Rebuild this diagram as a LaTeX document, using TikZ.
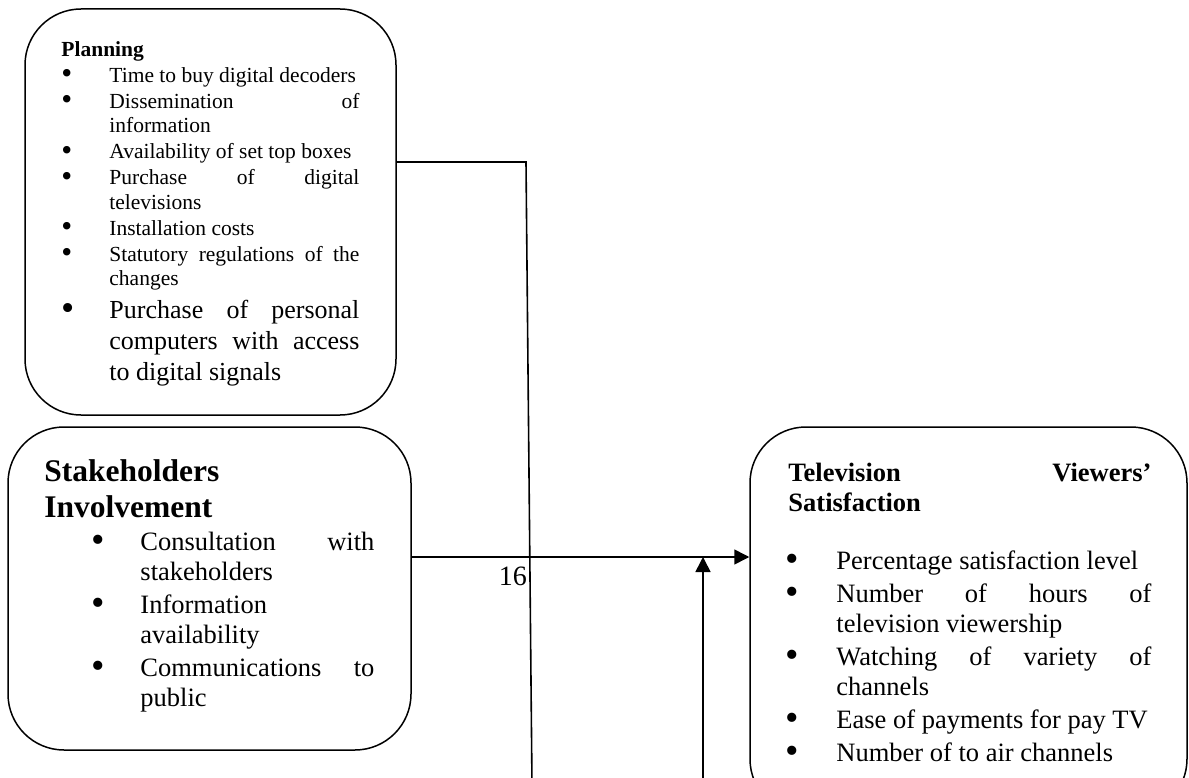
\documentclass[tikz,border=0pt]{standalone}
\usepackage{fontspec}
\setmainfont{Liberation Serif}
\usepackage{graphicx}
\usepackage{tikz}
\usetikzlibrary{arrows.meta,positioning}

\newlength{\bulpre}
\newlength{\bulskip}
\newcommand{\bul}[1]{\par\noindent\hangindent=\bulskip\hangafter=1%
  \makebox[\bulskip][l]{\hspace*{\bulpre}\raisebox{-0.07em}{\smash{\scalebox{1.45}{\textbullet}}}}#1}
\tolerance=10000
\hyphenpenalty=10000

\begin{document}
\begin{tikzpicture}[%
    x=1pt, y=-1pt,
    box/.style={draw, rounded corners=56pt, line width=1.5pt, inner sep=0pt},
    txt/.style={anchor=base west, inner sep=0pt, align=justify},
    line/.style={line width=1.6pt},
    arr/.style={-{Triangle[length=15pt, width=15pt]}, line width=1.6pt}
    ]

    \useasboundingbox (0,0) rectangle (1189,778);
    \clip (0,0) rectangle (1189,778);

    \node[box, minimum width=371pt, minimum height=406pt] (plan) at (210.5,212) {};
    \node[box, minimum width=403pt, minimum height=323pt] (stake) at (209.5,588.5) {};
    \node[box, minimum width=437pt, minimum height=388pt] (tv) at (968.5,621) {};

    \node[txt, text width=298pt] (plantxt) at ([xshift=37pt, yshift=-48pt]plan.north west) {%
        \fontsize{21.5pt}{24.5pt}\selectfont\setlength{\parskip}{1.5pt}%
        \setlength{\bulpre}{0pt}\setlength{\bulskip}{48pt}%
        \textbf{Planning}
        \bul{Time to buy digital decoders}
        \bul{Dissemination of\linebreak information}
        \bul{Availability of set top boxes}
        \bul{Purchase of digital\linebreak televisions}
        \bul{Installation costs}
        \bul{Statutory regulations of the\linebreak changes}\par
        {\fontsize{26pt}{31pt}\selectfont
        \bul{Purchase of personal\linebreak computers with access\linebreak to digital signals}\par}};

    \node[txt, text width=330pt] (staketxt) at ([xshift=37pt, yshift=-55pt]stake.north west) {%
        \fontsize{31.5pt}{36pt}\selectfont\textbf{Stakeholders\\Involvement}\par
        \fontsize{26.5pt}{30pt}\selectfont\setlength{\parskip}{3pt}%
        \setlength{\bulpre}{47.5pt}\setlength{\bulskip}{96pt}%
        \bul{Consultation with\linebreak stakeholders}
        \bul{Information\linebreak availability}
        \bul{Communications to\linebreak public}\par};

    \node[txt, text width=363pt] (tvtxt) at ([xshift=39pt, yshift=-55pt]tv.north west) {%
        \fontsize{26.5pt}{30pt}\selectfont\setlength{\parskip}{3pt}%
        \setlength{\bulpre}{-2.5pt}\setlength{\bulskip}{48pt}%
        \textbf{Television Viewers’\linebreak Satisfaction}\par\vspace{25pt}%
        \bul{Percentage satisfaction level}
        \bul{Number of hours of\linebreak television viewership}
        \bul{Watching of variety of\linebreak channels}
        \bul{Ease of payments for pay TV}
        \bul{Number of to air channels}\par};

    \node[anchor=base east, inner sep=0pt, font=\fontsize{28pt}{32pt}\selectfont] (pgno) at (527,585) {16};

    % connectors
    \coordinate (bend) at (526,162);
    \coordinate (planfoot) at (532,785);
    \draw[line] (plan.east |- bend) -- (bend) -- (planfoot);

    \coordinate (row) at (0,557);
    \coordinate (upfoot) at (703,785);
    \draw[arr] (stake.east |- row) -- (tv.west |- row);
    \draw[arr] (upfoot) -- (upfoot |- row);

\end{tikzpicture}
\end{document}
